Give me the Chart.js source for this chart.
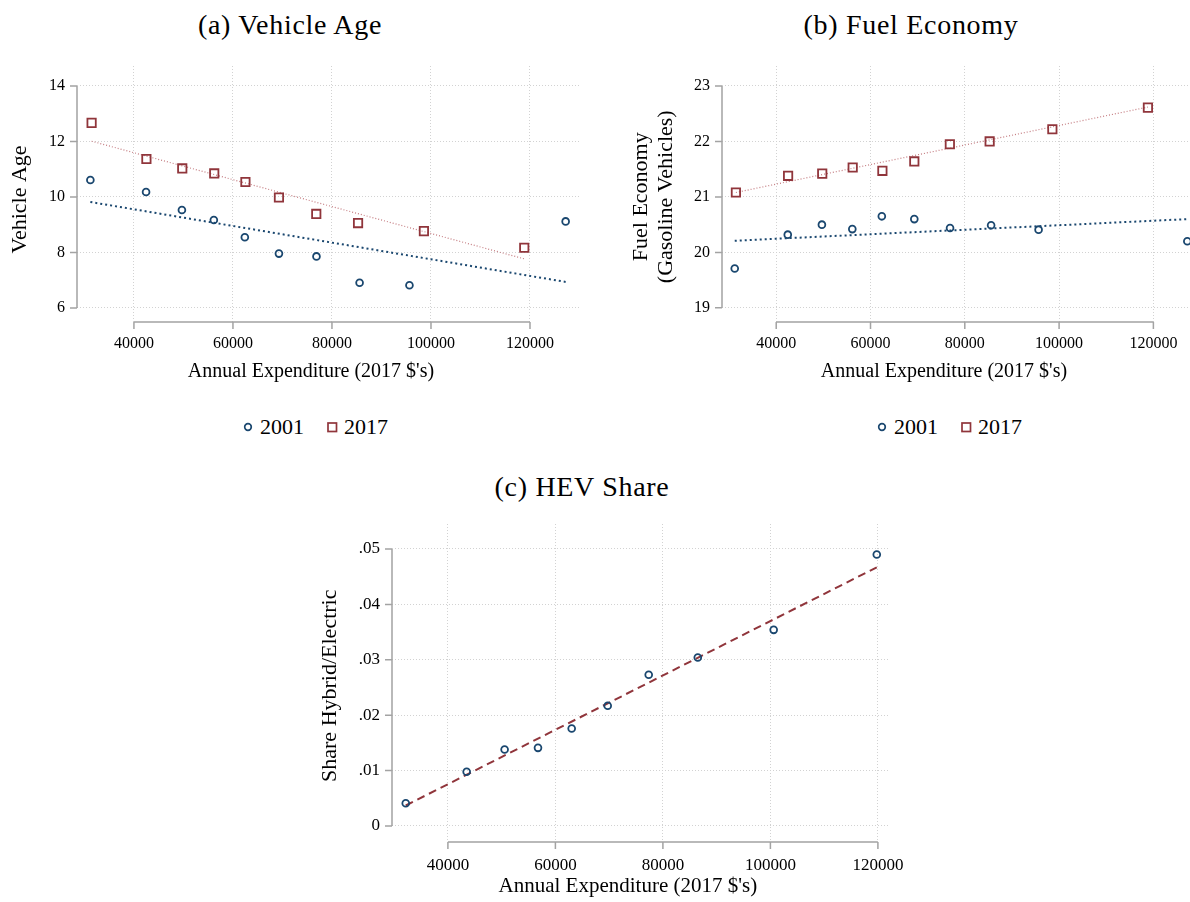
<!DOCTYPE html>
<html><head><meta charset="utf-8">
<script src="https://cdn.jsdelivr.net/npm/chart.js@4.4.1/dist/chart.umd.min.js"></script>
<style>
html,body{margin:0;padding:0;background:#fff;width:1190px;height:902px;overflow:hidden;position:relative;font-family:"Liberation Serif",serif;}
.panel{position:absolute;}
.cap{position:absolute;transform:translate(-50%,-50%);white-space:nowrap;font-size:28px;letter-spacing:0.7px;color:#000;line-height:1;}
.legend{position:absolute;font-size:22px;line-height:22px;height:22px;white-space:nowrap;color:#000;display:flex;align-items:center;}
.legend svg{display:block;}
</style></head>
<body>
<div class="cap" style="left:290px;top:25px">(a) Vehicle Age</div>
<div class="cap" style="left:911px;top:25px">(b) Fuel Economy</div>
<div class="cap" style="left:582px;top:487px">(c) HEV Share</div>

<div class="panel" style="left:0;top:0;width:595px;height:400px"><canvas id="cA"></canvas></div>
<div class="panel" style="left:595px;top:0;width:620px;height:400px"><canvas id="cB"></canvas></div>
<div class="panel" style="left:300px;top:460px;width:610px;height:442px"><canvas id="cC"></canvas></div>

<div class="legend" id="legA" style="left:243px;top:416px"></div>
<div class="legend" id="legB" style="left:877px;top:416px"></div>

<script>
// ---------------- data ----------------
const seriesNames = ['2001', '2017'];

// Panel (a) / (b): mean annual expenditure per group
const exp2001 = [31200, 42450, 49690, 56140, 62400, 69290, 76870, 85580, 95650, 127200];
const exp2017 = [31450, 42520, 49760, 56220, 62520, 69290, 76830, 85270, 98570, 118840];

const vehicleAge2001 = [10.61, 10.18, 9.53, 9.17, 8.55, 7.96, 7.86, 6.91, 6.82, 9.12];
const vehicleAge2017 = [12.67, 11.37, 11.03, 10.85, 10.54, 9.98, 9.39, 9.06, 8.77, 8.17];

const fuelEcon2001 = [19.71, 20.32, 20.50, 20.42, 20.65, 20.60, 20.44, 20.49, 20.41, 20.20];
const fuelEcon2017 = [21.08, 21.38, 21.42, 21.53, 21.47, 21.64, 21.95, 22.00, 22.22, 22.61];

// fitted lines (endpoints)
const fitX2001 = [31200, 127200];
const fitX2017 = [31450, 118840];
const ageFit2001 = [9.82, 6.94];
const ageFit2017 = [12.01, 7.77];
const fuelFit2001 = [20.21, 20.60];
const fuelFit2017 = [21.08, 22.62];

// Panel (c): HEV share
const expHEV = [32160, 43490, 50550, 56760, 63030, 69730, 77360, 86490, 100610, 119790];
const hevShare = [0.0041, 0.0098, 0.0138, 0.0141, 0.0176, 0.0217, 0.0273, 0.0304, 0.0354, 0.0490];
const hevFitX = [32160, 119790];
const hevFitY = [0.0037, 0.0467];

// tick labels
const xTicks = [40000, 60000, 80000, 100000, 120000];
const ageTicks = [6, 8, 10, 12, 14];
const fuelTicks = [19, 20, 21, 22, 23];
const hevTicks = [0, 0.01, 0.02, 0.03, 0.04, 0.05];
const hevTickLabels = ['0', '.01', '.02', '.03', '.04', '.05'];

// axis titles
const xTitle = 'Annual Expenditure (2017 $\'s)';
const ageTitle = 'Vehicle Age';
const fuelTitle = ['Fuel Economy', '(Gasoline Vehicles)'];
const hevTitle = 'Share Hybrid/Electric';

// ---------------- styling ----------------
const NAVY = '#1a476f';
const MAROON = '#90353b';
const FONT = '"Liberation Serif", serif';
Chart.defaults.font.family = FONT;
Chart.defaults.color = '#000';

const zip = (xs, ys) => xs.map((x, i) => ({x: x, y: ys[i]}));
// trailing spaces nudge the centred title (as in the reference layout)
const pad = (t, n) => t + ' '.repeat(n);

const stataAxes = {
  id: 'stataAxes',
  beforeDatasetsDraw(chart) {
    const {ctx, chartArea} = chart;
    const xs = chart.scales.x, ys = chart.scales.y;
    const xt = xs.ticks.map(t => xs.getPixelForValue(t.value));
    const yt = ys.ticks.map(t => ys.getPixelForValue(t.value));
    const L = chartArea.left, B = chartArea.bottom, len = 7;
    ctx.save();
    ctx.strokeStyle = '#a3a3a3';
    ctx.lineWidth = 1.5;
    ctx.beginPath();
    ctx.moveTo(L, Math.min(...yt)); ctx.lineTo(L, Math.max(...yt));
    yt.forEach(p => { ctx.moveTo(L, p); ctx.lineTo(L - len, p); });
    ctx.moveTo(Math.min(...xt), B); ctx.lineTo(Math.max(...xt), B);
    xt.forEach(p => { ctx.moveTo(p, B); ctx.lineTo(p, B + len); });
    ctx.stroke();
    ctx.restore();
  }
};

function gridOpts() {
  return {color: '#d2d2d2', lineWidth: 1, drawTicks: false};
}
function borderOpts() {
  return {display: false, dash: [1, 2]};
}

function makeScatter(id, cfg) {
  return new Chart(document.getElementById(id), {
    type: 'scatter',
    data: {datasets: cfg.datasets},
    options: {
      responsive: true,
      maintainAspectRatio: false,
      animation: false,
      devicePixelRatio: 1,
      layout: {padding: cfg.padding},
      plugins: {legend: {display: false}, tooltip: {enabled: false}},
      scales: {
        x: {
          type: 'linear', min: cfg.xMin, max: cfg.xMax,
          grid: gridOpts(), border: borderOpts(),
          afterBuildTicks: s => { s.ticks = xTicks.map(v => ({value: v})); },
          afterFit: s => { s.height = cfg.xHeight; s.paddingLeft = 0; s.paddingRight = 0; },
          ticks: {padding: cfg.xTickPad, font: {size: cfg.tickSize}, maxRotation: 0, callback: v => String(v)},
          title: {display: true, text: cfg.xTitle, font: {size: cfg.xTitleSize, lineHeight: 1.2},
                  padding: {top: 0, bottom: cfg.xTitlePad}}
        },
        y: {
          type: 'linear', min: cfg.yMin, max: cfg.yMax,
          grid: gridOpts(), border: borderOpts(),
          afterBuildTicks: s => { s.ticks = cfg.yTicks.map(v => ({value: v})); },
          afterFit: s => { s.width = cfg.yWidth; s.paddingTop = 0; s.paddingBottom = 0; },
          ticks: {padding: 12, font: {size: cfg.tickSize}, callback: cfg.yLabel},
          title: {display: true, text: cfg.yTitle, font: {size: 22, lineHeight: cfg.yTitleLH},
                  padding: {top: cfg.yTitlePad, bottom: 0}}
        }
      }
    },
    plugins: [stataAxes]
  });
}

function pointsSet(label, xs, ys, style) {
  const circle = style === 'circle';
  return {
    label: label, data: zip(xs, ys), showLine: false,
    pointStyle: circle ? 'circle' : 'rect',
    pointRadius: circle ? 3.4 : 5.9,
    borderColor: circle ? NAVY : MAROON,
    backgroundColor: 'rgba(255,255,255,0)',
    borderWidth: 1.8
  };
}
function fitSet(label, xs, ys, color, width, dash) {
  return {
    label: label, data: zip(xs, ys), showLine: true, pointRadius: 0,
    borderColor: color, borderWidth: width, borderDash: dash, fill: false
  };
}

// Panel (a)
makeScatter('cA', {
  datasets: [
    pointsSet(seriesNames[0], exp2001, vehicleAge2001, 'circle'),
    pointsSet(seriesNames[1], exp2017, vehicleAge2017, 'rect'),
    fitSet('fit ' + seriesNames[0], fitX2001, ageFit2001, NAVY, 2, [2, 3]),
    fitSet('fit ' + seriesNames[1], fitX2017, ageFit2017, 'rgba(190,110,115,0.9)', 1.2, [1, 2])
  ],
  padding: {top: 66, right: 15, bottom: 0, left: 0},
  xMin: 28500, xMax: 130100, xHeight: 78, xTickPad: 12, xTitlePad: 16,
  xTitle: pad(xTitle, 7), xTitleSize: 20,
  yMin: 5.4955, yMax: 14.72, yTicks: ageTicks, yWidth: 77, yTitlePad: 7, yTitleLH: 1.2,
  yTitle: pad(ageTitle, 2), tickSize: 16, yLabel: v => String(v)
});

// Panel (b)
makeScatter('cB', {
  datasets: [
    pointsSet(seriesNames[0], exp2001, fuelEcon2001, 'circle'),
    pointsSet(seriesNames[1], exp2017, fuelEcon2017, 'rect'),
    fitSet('fit ' + seriesNames[0], fitX2001, fuelFit2001, NAVY, 2, [2, 3]),
    fitSet('fit ' + seriesNames[1], fitX2017, fuelFit2017, 'rgba(190,110,115,0.9)', 1.2, [1, 2])
  ],
  padding: {top: 66, right: 14, bottom: 0, left: 0},
  xMin: 28500, xMax: 130100, xHeight: 78, xTickPad: 12, xTitlePad: 16,
  xTitle: pad(xTitle, 7), xTitleSize: 20,
  yMin: 18.745, yMax: 23.36, yTicks: fuelTicks, yWidth: 127, yTitlePad: 33.5, yTitleLH: 1.136,
  yTitle: fuelTitle.map(t => pad(t, 1)), tickSize: 16, yLabel: v => String(v)
});

// Panel (c)
makeScatter('cC', {
  datasets: [
    pointsSet(seriesNames[1], expHEV, hevShare, 'circle'),
    fitSet('fit', hevFitX, hevFitY, MAROON, 2, [8, 5])
  ],
  padding: {top: 64, right: 20, bottom: 0, left: 0},
  xMin: 29600, xMax: 122250, xHeight: 60, xTickPad: 13, xTitlePad: 3,
  xTitle: pad(xTitle, 5), xTitleSize: 21,
  yMin: -0.00289, yMax: 0.05451, yTicks: hevTicks, yWidth: 92, yTitlePad: 17.4, yTitleLH: 1.2,
  yTitle: pad(hevTitle, 1), tickSize: 17,
  yLabel: v => { const i = hevTicks.findIndex(t => Math.abs(t - v) < 1e-9); return i >= 0 ? hevTickLabels[i] : ''; }
});

// HTML legends (panels a and b)
function buildLegend(id) {
  const el = document.getElementById(id);
  el.innerHTML =
    '<svg width="10" height="10"><circle cx="5" cy="5" r="3.3" fill="none" stroke="' + NAVY + '" stroke-width="1.7"/></svg>' +
    '<span style="margin-left:7px">' + seriesNames[0] + '</span>' +
    '<svg style="margin-left:23px" width="11" height="11"><rect x="1" y="1" width="8.5" height="8.5" fill="none" stroke="' + MAROON + '" stroke-width="1.7"/></svg>' +
    '<span style="margin-left:6px">' + seriesNames[1] + '</span>';
}
buildLegend('legA');
buildLegend('legB');
</script>
</body></html>
